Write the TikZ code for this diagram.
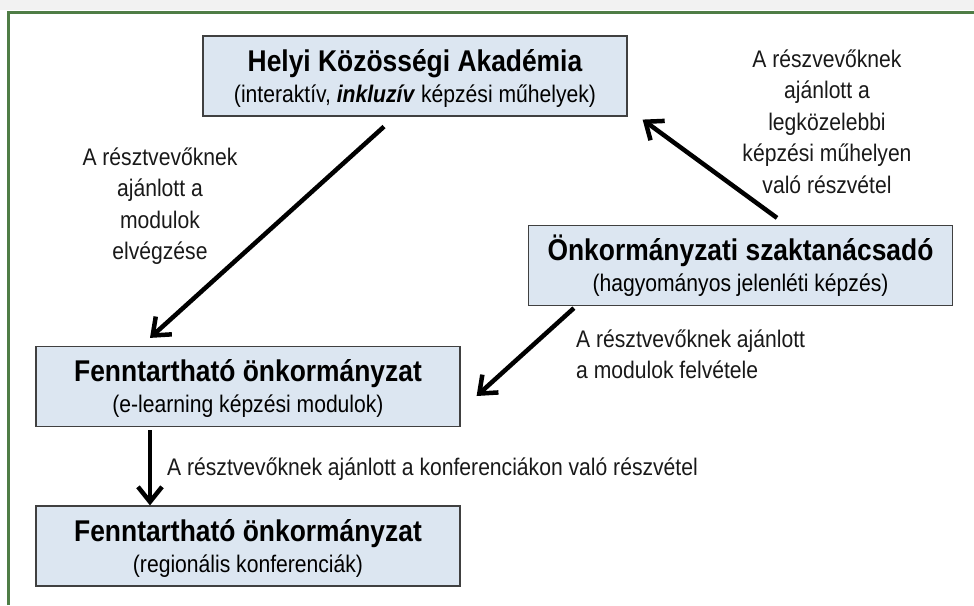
\documentclass[tikz,border=0pt]{standalone}
\usepackage{fontspec}
\setmainfont{Liberation Sans}[FakeStretch=0.88]
\usetikzlibrary{arrows.meta, positioning}

\definecolor{dobozkek}{HTML}{DCE6F1}
\definecolor{keretzold}{HTML}{4F7D46}

\tikzset{
  doboz/.style={draw=black!75, line width=1.2pt, fill=dobozkek, minimum width=424pt,
    minimum height=80pt, align=center, inner sep=0pt, font=\fontsize{24}{31}\selectfont},
  nyil/.style={line width=4.5pt, -{Straight Barb[length=15pt,width=24pt]}},
  cimke/.style={align=center, inner sep=0pt, text=black!90, font=\fontsize{24}{31.5}\selectfont},
}
\newcommand{\cimsor}[2]{{\fontsize{30}{31}\selectfont\bfseries\vphantom{Á}#1}\\#2}

\begin{document}
\begin{tikzpicture}[x=1pt, y=-1pt]
\useasboundingbox (0,0) rectangle (974,605);

% keret
\fill[black!5] (0,0) rectangle (974,10);
\draw[keretzold, line width=3pt] (8,605) -- (8,12) -- (974,12);

% dobozok
\node[doboz] (hka) at (415,76) {\cimsor{Helyi Közösségi Akadémia}{(interaktív, \textbf{\textit{inkluzív}} képzési műhelyek)}};
\node[doboz] (osz) at (740.5,265.5) {\cimsor{Önkormányzati szaktanácsadó}{(hagyományos jelenléti képzés)}};
\node[doboz] (fenn1) at (248,386.5) {\cimsor{Fenntartható önkormányzat}{(e-learning képzési modulok)}};
\node[doboz] (fenn2) at (248,546) {\cimsor{Fenntartható önkormányzat}{(regionális konferenciák)}};

% nyilak
\draw[nyil] ([xshift=-31pt,yshift=-10pt]hka.south) -- ([xshift=-98pt,yshift=8pt]fenn1.north);
\draw[nyil] ([xshift=36.5pt,yshift=7pt]osz.north) -- ([xshift=15pt,yshift=-3pt]hka.south east);
\draw[nyil] ([xshift=46pt,yshift=-2pt]osz.south west) -- ([xshift=16pt,yshift=-9.5pt]fenn1.east);
\draw[nyil] ([xshift=-98pt,yshift=-3pt]fenn1.south) -- ([xshift=-98pt]fenn2.north);

% feliratok (base = utolso sor alapvonala)
\node[cimke, anchor=base] (l1) at (160,259.5) {A résztvevőknek\\ajánlott a\\modulok\\elvégzése};
\node[cimke, anchor=base] (l2) at (827,193) {A részvevőknek\\ajánlott a\\legközelebbi\\képzési műhelyen\\való részvétel};
\node[cimke, align=left, anchor=base west] (l3) at (576,378.5) {A résztvevőknek ajánlott\\a modulok felvétele};
\node[cimke, anchor=base west] (l4) at (167,475) {A résztvevőknek ajánlott a konferenciákon való részvétel};

\end{tikzpicture}
\end{document}
